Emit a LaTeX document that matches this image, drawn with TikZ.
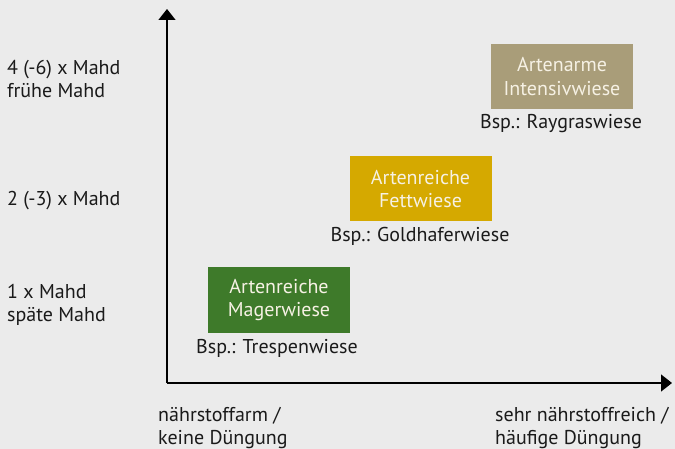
\documentclass[tikz,border=0pt]{standalone}
\usepackage{fontspec}
\setmainfont{PT Sans}
\usetikzlibrary{arrows.meta}
\definecolor{bg}{HTML}{EBEBEB}
\definecolor{grn}{HTML}{3E7A2A}
\definecolor{ylw}{HTML}{D5A900}
\definecolor{tau}{HTML}{A99D79}
\definecolor{txt}{HTML}{1A1A1A}
\definecolor{boxtxt}{HTML}{F6F1E4}
\tikzset{
  cat/.style={minimum width=142pt, minimum height=65pt, inner sep=0pt, align=center, text=boxtxt, font=\fontsize{20}{23.5}\selectfont},
  lbl/.style={inner sep=0pt, text=txt, font=\fontsize{20}{23.5}\selectfont},
  side/.style={lbl, anchor=base west, align=left},
  axis/.style={line width=1.3pt, -{Triangle[length=11pt,width=17pt]}}
}
\begin{document}
\begin{tikzpicture}[x=1pt,y=-1pt]
\fill[bg] (0,0) rectangle (675,449);
\useasboundingbox (0,0) rectangle (675,449);
\coordinate (o) at (167,383);
\coordinate (ytip) at (167,9);
\coordinate (xtip) at (672,383);
\draw[axis] (o) -- (ytip);
\draw[axis] (o) -- (xtip);
\node[cat, fill=grn] (b1) at (279,300) {Artenreiche\\Magerwiese};
\node[cat, fill=ylw] (b2) at (420.5,189) {Artenreiche\\Fettwiese};
\node[cat, fill=tau] (b3) at (562,76.5) {Artenarme\\Intensivwiese};
\node[lbl, anchor=base] (l1) at (277,353) {Bsp.: Trespenwiese};
\node[lbl, anchor=base] (l2) at (420,241.5) {Bsp.: Goldhaferwiese};
\node[lbl, anchor=base] (l3) at (561,129) {Bsp.: Raygraswiese};
\node[side] (m4) at (7,97.8) {4 (-6) x Mahd\\frühe Mahd};
\node[side] (m2) at (7,206) {2 (-3) x Mahd};
\node[side] (m1) at (7,321.8) {1 x Mahd\\späte Mahd};
\node[side] (xa) at (158,444.5) {nährstoffarm /\\keine Düngung};
\node[side] (xb) at (495,444.5) {sehr nährstoffreich /\\häufige Düngung};
\end{tikzpicture}
\end{document}
